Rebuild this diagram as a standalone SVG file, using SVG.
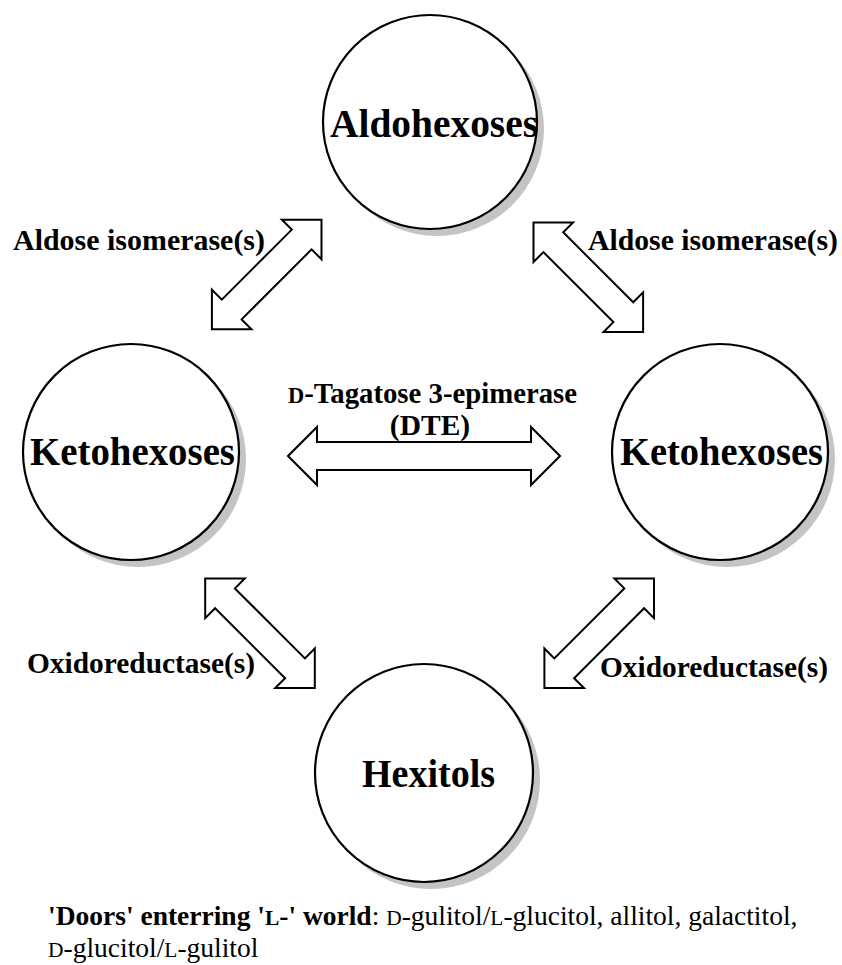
<svg xmlns="http://www.w3.org/2000/svg" width="842" height="965" viewBox="0 0 842 965">
<style>
.bg{fill:#ffffff}
.shadow{fill:#c4c4c4;stroke:none}
.node{fill:#ffffff;stroke:#000000;stroke-width:2.2}
.ntext{font-family:"Liberation Serif","Times New Roman",serif;font-weight:bold;font-size:39px;fill:#000000;text-anchor:middle}
.lbl{font-family:"Liberation Serif","Times New Roman",serif;font-weight:bold;font-size:29.5px;fill:#000000}
.arrow{fill:#ffffff;stroke:#000000;stroke-width:2;stroke-linejoin:miter}
.note{font-family:"Liberation Serif","Times New Roman",serif;font-size:27.5px;fill:#000000}
.sc{font-size:0.78em}
</style>
<rect class="bg" x="0" y="0" width="842" height="965"/>

<g id="node-aldohexoses">
  <circle class="shadow" cx="437" cy="129" r="107"/>
  <circle class="node" cx="430" cy="122" r="107"/>
  <text class="ntext" x="434" y="137" textLength="208" lengthAdjust="spacingAndGlyphs">Aldohexoses</text>
</g>
<g id="node-ketohexoses-left">
  <circle class="shadow" cx="138" cy="459" r="108"/>
  <circle class="node" cx="131" cy="452" r="108"/>
  <text class="ntext" x="132.5" y="465" textLength="205" lengthAdjust="spacingAndGlyphs">Ketohexoses</text>
</g>
<g id="node-ketohexoses-right">
  <circle class="shadow" cx="727" cy="459" r="108"/>
  <circle class="node" cx="720" cy="452" r="108"/>
  <text class="ntext" x="721.5" y="465" textLength="203" lengthAdjust="spacingAndGlyphs">Ketohexoses</text>
</g>
<g id="node-hexitols">
  <circle class="shadow" cx="431" cy="780" r="109"/>
  <circle class="node" cx="424" cy="773" r="109"/>
  <text class="ntext" x="428.5" y="787" textLength="133" lengthAdjust="spacingAndGlyphs">Hexitols</text>
</g>

<g id="connectors">
  <path class="arrow" transform="translate(266.7,274.5) rotate(-45)" d="M-77.5,0 L-49.5,-28 L-49.5,-14 L49.5,-14 L49.5,-28 L77.5,0 L49.5,28 L49.5,14 L-49.5,14 L-49.5,28 Z"/>
  <path class="arrow" transform="translate(588.3,277.2) rotate(45)" d="M-77.5,0 L-49.5,-28 L-49.5,-14 L49.5,-14 L49.5,-28 L77.5,0 L49.5,28 L49.5,14 L-49.5,14 L-49.5,28 Z"/>
  <path class="arrow" transform="translate(260,633.3) rotate(45)" d="M-77.5,0 L-49.5,-28 L-49.5,-14 L49.5,-14 L49.5,-28 L77.5,0 L49.5,28 L49.5,14 L-49.5,14 L-49.5,28 Z"/>
  <path class="arrow" transform="translate(599.2,633.3) rotate(-45)" d="M-77.5,0 L-49.5,-28 L-49.5,-14 L49.5,-14 L49.5,-28 L77.5,0 L49.5,28 L49.5,14 L-49.5,14 L-49.5,28 Z"/>
  <path class="arrow" transform="translate(424,456)" d="M-136,0 L-107,-29 L-107,-14 L107,-14 L107,-29 L136,0 L107,29 L107,14 L-107,14 L-107,29 Z"/>
</g>

<g id="labels">
  <text class="lbl" x="13" y="250" textLength="252" lengthAdjust="spacingAndGlyphs">Aldose isomerase(s)</text>
  <text class="lbl" x="588" y="250" textLength="250" lengthAdjust="spacingAndGlyphs">Aldose isomerase(s)</text>
  <text class="lbl" x="288" y="403" textLength="289" lengthAdjust="spacingAndGlyphs"><tspan class="sc">D</tspan>-Tagatose 3-epimerase</text>
  <text class="lbl" x="430" y="435" text-anchor="middle">(DTE)</text>
  <text class="lbl" x="27" y="673" textLength="228" lengthAdjust="spacingAndGlyphs">Oxidoreductase(s)</text>
  <text class="lbl" x="600" y="677" textLength="228" lengthAdjust="spacingAndGlyphs">Oxidoreductase(s)</text>
</g>

<g id="note">
  <text class="note" x="48" y="925"><tspan font-weight="bold">'Doors' enterring '<tspan class="sc">L</tspan>-' world</tspan>: <tspan class="sc">D</tspan>-gulitol/<tspan class="sc">L</tspan>-glucitol, allitol, galactitol,</text>
  <text class="note" x="48" y="957"><tspan class="sc">D</tspan>-glucitol/<tspan class="sc">L</tspan>-gulitol</text>
</g>
</svg>
